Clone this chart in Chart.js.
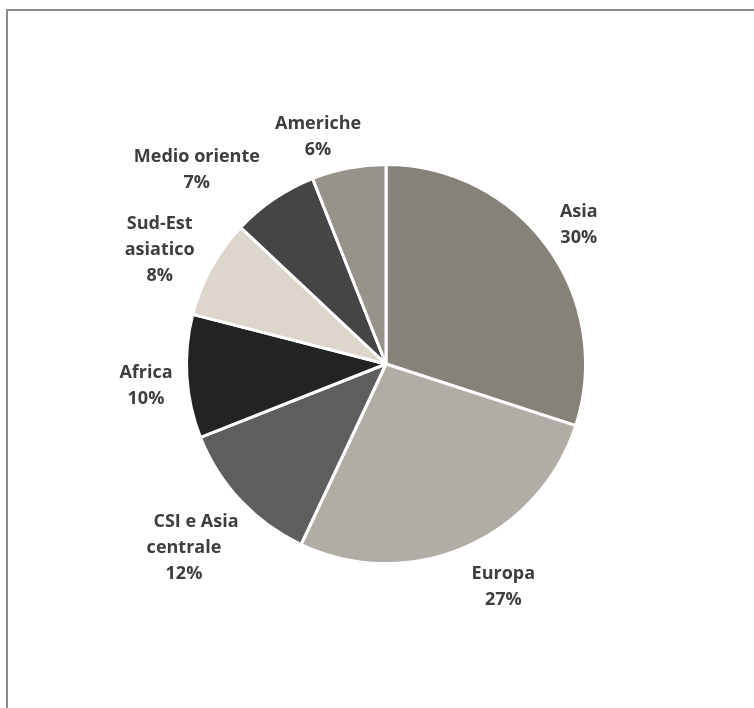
<!DOCTYPE html>
<html><head><meta charset="utf-8">
<script src="https://cdn.jsdelivr.net/npm/chart.js@4/dist/chart.umd.min.js"></script>
<style>
html,body{margin:0;padding:0;background:#fff;}
#wrap{position:relative;width:754px;height:708px;}
#frame{position:absolute;left:6px;top:9px;right:-10px;bottom:-10px;border-top:2px solid #8a8a8a;border-left:2px solid #8a8a8a;}
canvas{position:absolute;left:0;top:0;}
</style></head>
<body><div id="wrap"><div id="frame"></div><canvas id="c" width="754" height="708"></canvas></div>
<script>
const categories = ["Asia", "Europa", "CSI e Asia centrale", "Africa", "Sud-Est asiatico", "Medio oriente", "Americhe"];
const labelLines = [["Asia"], ["Europa"], ["CSI e Asia", "centrale"], ["Africa"], ["Sud-Est", "asiatico"], ["Medio oriente"], ["Americhe"]];
const shares = [30, 27, 12, 10, 8, 7, 6];
const colors = ["#878279", "#b1aca5", "#5e5e5e", "#232323", "#dcd6cc", "#454545", "#97928b"];
// label layout: distance of label centre beyond the rim, and angle tweak (deg)
const labelGap = [40, 49.6, 71.5, 41.2, 55.4, 74.3, 41.2];
const labelAngleShift = [-0.4, -4.7, 1.4, -0.7, -1.4, -9.5, -5.6];

const labelPlugin = {
  id: 'outLabels',
  afterDatasetsDraw(chart) {
    const ctx = chart.ctx;
    const meta = chart.getDatasetMeta(0);
    ctx.save();
    ctx.font = '700 18px "Open Sans"';
    ctx.fillStyle = '#3e3e3e';
    ctx.textAlign = 'center';
    ctx.textBaseline = 'alphabetic';
    meta.data.forEach((arc, i) => {
      const mid = (arc.startAngle + arc.endAngle) / 2 + labelAngleShift[i] * Math.PI / 180;
      const d = arc.outerRadius + labelGap[i];
      const cx = arc.x + Math.cos(mid) * d;
      const cy = arc.y + Math.sin(mid) * d;
      const lines = labelLines[i].concat([shares[i] + '%']);
      const lh = 26;
      const top = cy - (lines.length - 1) * lh / 2;
      lines.forEach((t, k) => {
        const shift = (i === 2 && k === 0) ? 12 : 0;
        ctx.fillText(t, cx + shift, top + k * lh + 8.5);
      });
    });
    ctx.restore();
  }
};

new Chart(document.getElementById('c'), {
  type: 'pie',
  data: {
    labels: categories,
    datasets: [{ data: shares, backgroundColor: colors, borderColor: '#ffffff', borderWidth: 3 }]
  },
  options: {
    responsive: false,
    animation: false,
    layout: { padding: { left: 185, right: 167, top: 163, bottom: 143 } },
    plugins: { legend: { display: false }, tooltip: { enabled: false } }
  },
  plugins: [labelPlugin]
});
</script>
</body></html>
